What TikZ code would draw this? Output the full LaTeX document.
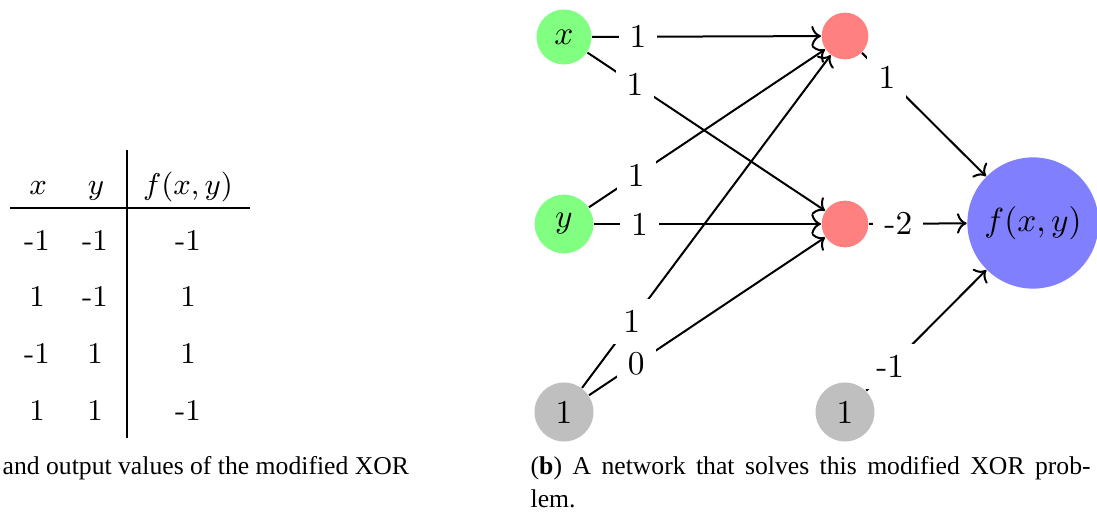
\documentclass[tikz,border=0pt]{standalone}
\usepackage{fontspec}
\usepackage{tikz}
\usetikzlibrary{
  arrows.meta,
  positioning
}
\newfontfamily\capfont{Liberation Serif}
\tikzset{
  neuron/.style={circle, inner sep=0.3333em},
  input node/.style={neuron, fill=green!50},
  hidden node/.style={neuron, fill=red!50, minimum size=14pt},
  output node/.style={neuron, fill=blue!50, minimum size=39pt},
  bias node/.style={neuron, fill=gray!50},
  weight/.style={fill=white, pos=0.2},
  conn/.style={->, semithick},
  cell/.style={anchor=base, font=\fontsize{9}{11}\selectfont},
  caption/.style={font=\capfont\fontsize{7.7}{9.9}\selectfont, inner sep=0pt},
}

\begin{document}
\begin{tikzpicture}[x=0.3pt, y=-0.3pt]
    \useasboundingbox (0,0) rectangle (1097,517);

    % Table
    \node[cell] (headX) at (38,195) {$x$};
    \node[cell] (headY) at (96,195) {$y$};
    \node[cell] (headF) at (188,195) {$f(x,y)$};
    \foreach \a/\b/\c [count=\r] in {-1/-1/-1, 1/-1/1, -1/1/1, 1/1/-1} {
      \node[cell] (colX\r) at (37,193.3+56.7*\r) {\a};
      \node[cell] (colY\r) at (95,193.3+56.7*\r) {\b};
      \node[cell] (colF\r) at (188,193.3+56.7*\r) {\c};
    }
    \draw (10,208) -- (250,208);
    \draw (127,150) -- (127,438);

    % Nodes
    \node[input node] (xin) at (564,37) {$x$};
    \node[input node] (yin) at (564,224) {$y$};
    \node[bias node] (biasIn) at (564,412) {1};
    \node[hidden node] (hidTop) at (845,36) {};
    \node[hidden node] (hidBot) at (845,224) {};
    \node[output node] (out) at (1033,223) {$f(x,y)$};
    \node[bias node] (biasHid) at (845,412) {1};

    % Arrows
    \draw[conn] (xin) -- node[weight] {1} (hidTop);
    \draw[conn] (xin) -- node[weight] {1} (hidBot);
    \draw[conn] (yin) -- node[weight] {1} (hidTop);
    \draw[conn] (yin) -- node[weight] {1} (hidBot);
    \draw[conn] (biasIn) -- node[weight] {1} (hidTop);
    \draw[conn] (biasIn) -- node[weight] {0} (hidBot);
    \draw[conn] (hidTop) -- node[weight] {1} (out);
    \draw[conn] (hidBot) -- node[weight, pos=0.3] {-2} (out);
    \draw[conn] (biasHid) -- node[weight] {-1} (out);

    % Captions
    \node[caption, anchor=base west] (capA) at (2,474)
      {and output values of the modified XOR};
    \node[caption, anchor=base west, text width=168pt, align=justify] (capB)
      at (530,474) {(\textbf{b}) A network that solves this modified XOR prob-\linebreak lem.};
\end{tikzpicture}
\end{document}
